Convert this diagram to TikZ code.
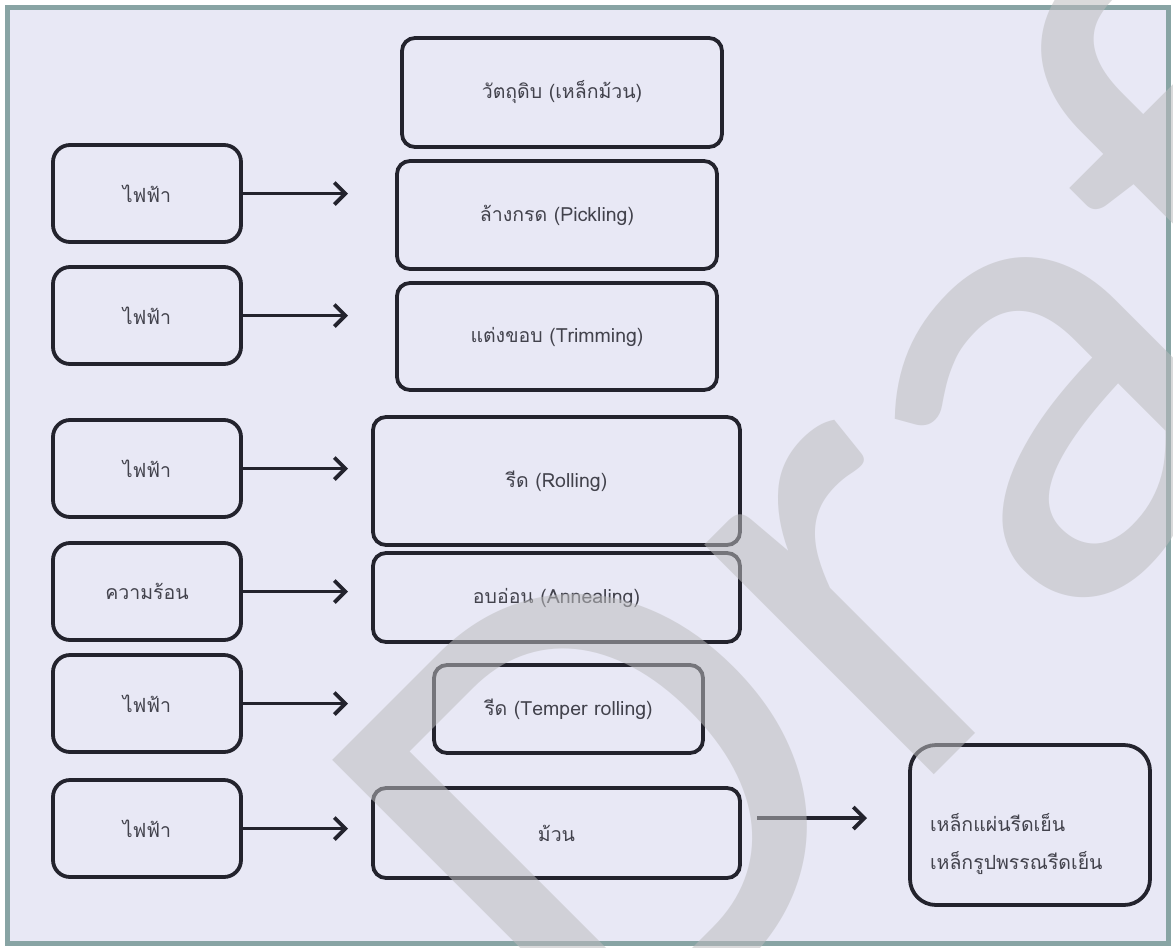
\documentclass[tikz,border=0pt]{standalone}
\usepackage{fontspec}
\newfontfamily\thaifont[Script=Thai]{Loma}
\newfontfamily\wmfont{Carlito}
\usetikzlibrary{arrows.meta}
\definecolor{pagebg}{RGB}{232,232,245}
\definecolor{framec}{RGB}{136,164,164}
\definecolor{ink}{RGB}{35,35,45}
\definecolor{textc}{RGB}{66,66,76}
\definecolor{wmc}{RGB}{188,188,190}
\begin{document}
\begin{tikzpicture}[x=1pt,y=-1pt,
  every node/.style={inner sep=0pt, outer sep=0pt},
  proc/.style={draw=ink, line width=3.8pt, rounded corners=13pt, text=textc,
    font=\thaifont\fontsize{19.5}{22}\selectfont},
  src/.style={proc, rounded corners=17pt, minimum width=188pt, minimum height=97pt},
  feed/.style={draw=ink, line width=3.8pt, -{Straight Barb[length=11pt, width=22pt]}},
  wm/.style={rotate=45, anchor=base west, text=wmc, text opacity=0.54,
    font=\wmfont\fontsize{680}{680}\selectfont}
]
\useasboundingbox (0,0) rectangle (1173,948);
\fill[white] (0,0) rectangle (1173,948);
\draw[framec, line width=5pt, fill=pagebg] (7.5,7.5) rectangle (1168,943);

% process chain
\node[proc, minimum width=320pt, minimum height=109pt] (raw)    at (562,92.5)  {วัตถุดิบ (เหล็กม้วน)};
\node[proc, minimum width=320pt, minimum height=108pt] (pickle) at (557,215)   {ล้างกรด (Pickling)};
\node[proc, minimum width=320pt, minimum height=107pt] (trim)   at (557,336.5) {แต่งขอบ (Trimming)};
\node[proc, minimum width=367pt, minimum height=128pt] (roll)   at (556.5,481) {รีด (Rolling)};
\node[proc, minimum width=367pt, minimum height=89pt]  (anneal) at (556.5,597.5) {อบอ่อน (Annealing)};
\node[proc, minimum width=269pt, minimum height=88pt]  (temper) at (568.5,709) {รีด (Temper rolling)};
\node[proc, minimum width=367pt, minimum height=90pt]  (coil)   at (556.5,833) {ม้วน};
\node[proc, rounded corners=26pt, minimum width=240pt, minimum height=160pt] (prod) at (1030,825)
  {\raisebox{-19pt}[\height][\depth]{\parbox{200pt}{\raggedright\setlength{\baselineskip}{38pt}%
   เหล็กแผ่นรีดเย็น\\เหล็กรูปพรรณรีดเย็น}}};

% energy inputs
\node[src] (e1) at (147,193.5) {ไฟฟ้า};
\node[src] (e2) at (147,315.5) {ไฟฟ้า};
\node[src] (e3) at (147,468.5) {ไฟฟ้า};
\node[src] (e4) at (147,591.5) {ความร้อน};
\node[src] (e5) at (147,703.5) {ไฟฟ้า};
\node[src] (e6) at (147,828.5) {ไฟฟ้า};

\coordinate (tipx) at (348,0);
\draw[feed] (e1.east) -- (e1.east -| tipx);
\draw[feed] (e2.east) -- (e2.east -| tipx);
\draw[feed] (e3.east) -- (e3.east -| tipx);
\draw[feed] (e4.east) -- (e4.east -| tipx);
\draw[feed] (e5.east) -- (e5.east -| tipx);
\draw[feed] (e6.east) -- (e6.east -| tipx);

\draw[feed, shorten <=17pt, shorten >=43pt] ([yshift=15pt]coil.east) -- ([yshift=7pt]prod.west);

% watermark
\node[wm] (draft) at (608,1101) {Draft};
\end{tikzpicture}
\end{document}
